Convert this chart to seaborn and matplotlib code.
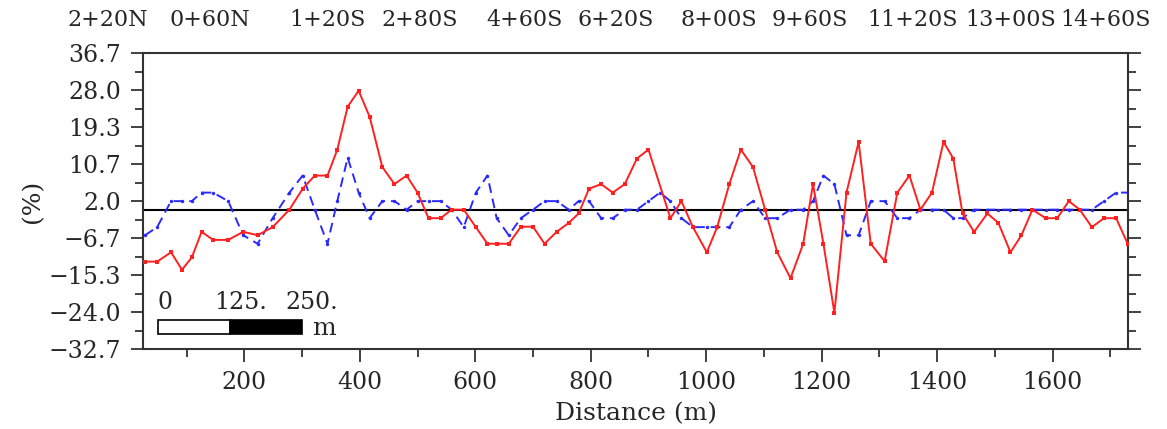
import numpy as np
import pandas as pd
import matplotlib
matplotlib.use("Agg")
import matplotlib.pyplot as plt
from matplotlib.patches import Rectangle
import seaborn as sns

# station names along the top
stations = ["2+20N", "0+60N", "1+20S", "2+80S", "4+60S", "6+20S",
            "8+00S", "9+60S", "11+20S", "13+00S", "14+60S"]

# red profile (solid)
dist_red = [28, 49, 73, 92, 109, 126, 146, 172, 198, 223, 249, 278, 301, 322, 344,
            361, 379, 398, 417, 439, 460, 481, 500, 519, 540, 559, 580, 601, 621, 637,
            658, 679, 700, 720, 741, 762, 779, 797, 818, 838, 859, 880, 900, 938, 957,
            977, 1001, 1019, 1040, 1060, 1081, 1102, 1123, 1146, 1168, 1185, 1203, 1222,
            1243, 1264, 1285, 1309, 1331, 1352, 1371, 1391, 1411, 1428, 1444, 1464, 1487,
            1506, 1527, 1546, 1565, 1588, 1608, 1628, 1647, 1668, 1689, 1710, 1730]
val_red = [-12.2, -12.2, -10.0, -14.1, -11.2, -5.2, -7.1, -7.1, -5.2, -6.0, -4.1, 0.0, 4.9, 8.0, 8.0,
           14.1, 24.2, 27.9, 21.8, 10.0, 6.0, 8.0, 4.0, -2.0, -2.0, 0.0, 0.0, -4.1, -8.0, -8.0,
           -8.0, -4.0, -4.0, -8.0, -5.2, -3.1, -0.9, 4.9, 6.0, 4.0, 6.0, 12.0, 14.1, -2.0, 2.0,
           -4.1, -10.0, -4.1, 6.0, 14.1, 10.0, 0.0, -10.0, -16.1, -8.0, 6.0, -8.0, -24.2,
           4.0, 15.9, -8.0, -12.1, 4.0, 8.0, 0.0, 4.0, 15.9, 12.0, -0.9, -5.2, -0.9,
           -3.1, -10.0, -6.0, 0.0, -2.0, -2.0, 2.0, 0.0, -4.1, -2.0, -2.0, -8.0]

# blue profile (dashed)
dist_blue = [28, 49, 73, 92, 109, 126, 146, 172, 198, 223, 249, 278, 301, 322, 344,
             361, 379, 398, 417, 439, 460, 481, 500, 519, 540, 559, 580, 601, 621, 637,
             658, 679, 700, 720, 741, 762, 779, 797, 818, 838, 859, 880, 900, 920, 938, 957,
             977, 1001, 1019, 1040, 1060, 1081, 1102, 1123, 1146, 1168, 1185, 1203, 1222,
             1243, 1264, 1285, 1309, 1331, 1352, 1371, 1391, 1411, 1428, 1444, 1464, 1487,
             1506, 1527, 1546, 1565, 1588, 1608, 1628, 1647, 1668, 1689, 1710, 1730]
val_blue = [-6.0, -4.1, 2.0, 2.0, 2.0, 4.0, 4.0, 2.0, -6.0, -8.0, -2.0, 4.0, 8.0, 0.0, -8.0,
            2.0, 12.2, 4.0, -2.0, 2.0, 2.0, 0.0, 2.0, 2.0, 2.0, 0.0, -4.1, 4.0, 8.0, -2.0,
            -6.0, -2.0, 0.0, 2.0, 2.0, 0.0, 2.0, 2.0, -2.0, -2.0, 0.0, 0.0, 2.0, 4.0, 2.0, -2.0,
            -4.1, -4.1, -4.1, -4.1, 0.0, 2.0, -2.0, -2.0, 0.0, 0.0, 2.0, 8.0, 6.0,
            -6.0, -6.0, 2.0, 2.0, -2.0, -2.0, 0.0, 0.0, 0.0, -2.0, -2.0, 0.0, 0.0,
            0.0, 0.0, 0.0, 0.0, 0.0, 0.0, 0.0, 0.0, 0.0, 2.0, 4.0, 4.0]

ytick_vals = [-32.7, -24.0, -15.3, -6.7, 2.0, 10.7, 19.3, 28.0, 36.7]
ytick_labels = ["\u221232.7", "\u221224.0", "\u221215.3", "\u22126.7", "2.0",
                "10.7", "19.3", "28.0", "36.7"]
scale_marks = [0, 125, 250]

red_df = pd.DataFrame({"Distance": dist_red, "Value": val_red})
blue_df = pd.DataFrame({"Distance": dist_blue, "Value": val_blue})

sns.set_style("ticks")
plt.rcParams["font.family"] = ["DejaVu Serif"]
plt.rcParams["font.size"] = 17

fig = plt.figure(figsize=(11.67, 4.29), dpi=100)
ax = fig.add_axes([0.1228, 0.1865, 0.8440, 0.6893])

ax.axhline(0, color="black", lw=1.5, zorder=1)
sns.lineplot(data=blue_df, x="Distance", y="Value", ax=ax, color="#2b2bff",
             linestyle=(0, (5, 3)), lw=1.4, marker=".", markersize=5,
             markeredgewidth=0, zorder=2)
sns.lineplot(data=red_df, x="Distance", y="Value", ax=ax, color="#ff2020",
             lw=1.4, marker="s", markersize=3.5, markeredgewidth=0, zorder=3)

ax.set_xlim(25, 1731)
ax.set_ylim(-32.7, 36.7)
ax.set_xticks(range(200, 1601, 200))
ax.set_xticks(range(100, 1701, 200), minor=True)
ytick_pos = np.linspace(-32.7, 36.7, 9)
ax.set_yticks(ytick_pos)
ax.set_yticklabels(ytick_labels)
ax.set_yticks((ytick_pos[:-1] + ytick_pos[1:]) / 2, minor=True)
ax.tick_params(which="both", direction="out", width=1.3, color="#333333",
               labelsize=17, pad=7, right=True, top=False)
ax.tick_params(which="major", length=9)
ax.tick_params(which="minor", length=6)
for s in ax.spines.values():
    s.set_linewidth(1.5)
    s.set_color("#333333")
ax.set_xlabel("")
ax.set_ylabel("")

fig.text(0.545, 0.035, "Distance (m)", ha="center", va="center", fontsize=18)
fig.text(0.028, 0.53, "(%)", ha="center", va="center", rotation=90, fontsize=18)

# station labels across the top
label_x = [108, 210, 327, 420, 525, 616, 719, 810, 913, 1011, 1106]
for name, px in zip(stations, label_x):
    fig.text(px / 1167, 0.953, name, ha="center", va="center", fontsize=16)

# scale bar
ax.add_patch(Rectangle((50, -29.1), 125, 3.2, facecolor="white",
                       edgecolor="black", lw=1.2, zorder=4))
ax.add_patch(Rectangle((175, -29.1), 125, 3.2, facecolor="black",
                       edgecolor="black", lw=1.2, zorder=4))
for m in scale_marks:
    lbl = "0" if m == 0 else f"{m}."
    ax.text(50 + m - (0 if m == 0 else 28), -24.4, lbl, ha="left", va="bottom",
            fontsize=17, zorder=5)
ax.text(318, -27.9, "m", ha="left", va="center", fontsize=18, zorder=5)

fig.savefig("out.png", dpi=100)
